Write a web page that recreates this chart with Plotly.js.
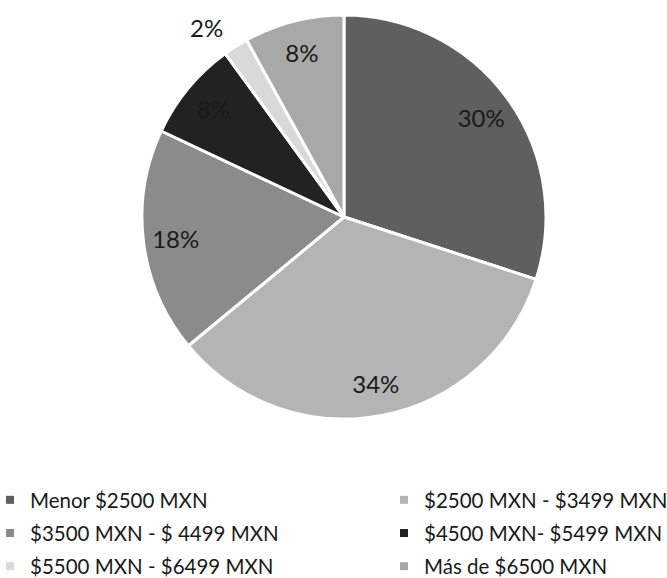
<!DOCTYPE html>
<html>
<head>
<meta charset="utf-8">
<script src="https://cdn.plot.ly/plotly-3.0.1.min.js"></script>
<style>html,body{margin:0;padding:0;background:#fff;}</style>
</head>
<body>
<div id="chart" style="width:667px;height:578px;"></div>
<script>
const categories = ["Menor $2500 MXN", "$2500 MXN - $3499 MXN", "$3500 MXN - $ 4499 MXN", "$4500 MXN- $5499 MXN", "$5500 MXN - $6499 MXN", "Más de $6500 MXN"];
const values = [30, 34, 18, 8, 2, 8];
const colors = ["#5f5f5f", "#b4b4b4", "#8b8b8b", "#222222", "#d9d9d9", "#a8a8a8"];
const textPositions = ["inside", "inside", "inside", "inside", "outside", "inside"];
const labelPull = [0, 0, 0, 0, 0.05, 0];

const FONT = "Lato, 'Open Sans', sans-serif";

// Slices
const pieTrace = {
  type: "pie",
  labels: categories,
  values: values,
  sort: false,
  direction: "clockwise",
  rotation: 0,
  marker: {colors: colors, line: {color: "#ffffff", width: 3}},
  textinfo: "none",
  domain: {x: [0.0314, 1], y: [0.02358, 0.97642]},
  showlegend: false,
  hoverinfo: "skip"
};

// Percentage labels (same data, transparent ring so labels sit near the rim)
const labelTrace = {
  type: "pie",
  labels: categories,
  values: values,
  sort: false,
  direction: "clockwise",
  rotation: 0,
  hole: 0.68,
  pull: labelPull,
  marker: {colors: categories.map(() => "rgba(0,0,0,0)"), line: {width: 0}},
  texttemplate: "%{percent:.0%}",
  textposition: textPositions,
  insidetextorientation: "horizontal",
  textfont: {family: FONT, size: 24, color: "#1a1a1a"},
  outsidetextfont: {family: FONT, size: 24, color: "#1a1a1a"},
  domain: {x: [0.0314, 1], y: [0, 1]},
  showlegend: false,
  hoverinfo: "skip"
};

// Legend entries (two columns)
const legendTraces = categories.map((name, i) => ({
  type: "scatter",
  mode: "markers",
  x: [null],
  y: [null],
  name: name,
  legend: i % 2 === 0 ? "legend" : "legend2",
  legendgroup: "g" + i,
  marker: {symbol: "square", size: 8, color: colors[i], line: {width: 0}},
  showlegend: true,
  hoverinfo: "skip"
}));

const legendBase = {
  orientation: "v",
  xanchor: "left",
  yanchor: "top",
  y: -0.1203,
  tracegroupgap: 3.5,
  bgcolor: "rgba(0,0,0,0)",
  borderwidth: 0,
  font: {family: FONT, size: 20.5, color: "#1a1a1a"},
  itemclick: false,
  itemdoubleclick: false
};

const layout = {
  width: 667,
  height: 578,
  margin: {l: 0, r: 0, t: 5, b: 149, autoexpand: false},
  paper_bgcolor: "#ffffff",
  plot_bgcolor: "#ffffff",
  showlegend: true,
  xaxis: {visible: false, fixedrange: true},
  yaxis: {visible: false, fixedrange: true},
  legend: Object.assign({}, legendBase, {x: -0.015}),
  legend2: Object.assign({}, legendBase, {x: 0.5757})
};

Plotly.newPlot("chart", [pieTrace, labelTrace].concat(legendTraces), layout, {displayModeBar: false, staticPlot: true});
</script>
</body>
</html>
